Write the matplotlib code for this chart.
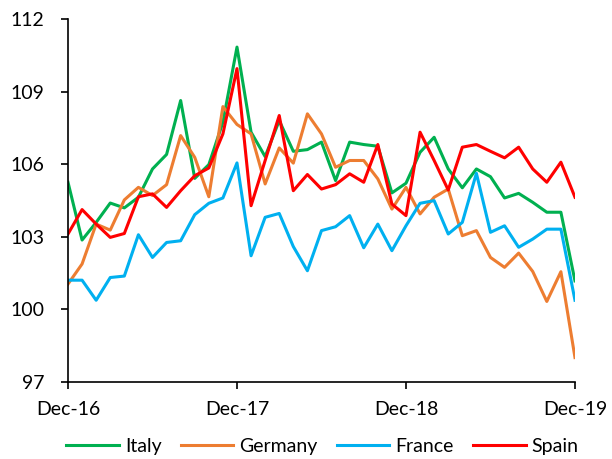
import matplotlib
matplotlib.use("Agg")
import matplotlib.pyplot as plt

# ── Data (monthly index, Dec-16 .. Dec-19) ───────────────────────────────────

tick_labels = ["Dec-16", "Dec-17", "Dec-18", "Dec-19"]

italy = [105.26, 102.87, 103.6, 104.4, 104.2, 104.64, 105.81, 106.41, 108.64,
         105.42, 105.99, 107.74, 110.85, 107.33, 106.32, 107.81, 106.54, 106.61,
         106.92, 105.33, 106.92, 106.82, 106.75, 104.82, 105.22, 106.5, 107.12,
         105.81, 105.03, 105.81, 105.49, 104.61, 104.8, 104.43, 104.02, 104.02,
         101.18]

germany = [101.05, 101.88, 103.53, 103.28, 104.53, 105.05, 104.71, 105.16, 107.19,
           106.29, 104.66, 108.39, 107.65, 107.26, 105.19, 106.68, 106.05, 108.09,
           107.26, 105.88, 106.16, 106.16, 105.4, 104.15, 105.05, 103.95, 104.64,
           104.98, 103.05, 103.26, 102.15, 101.74, 102.33, 101.57, 100.33, 101.56,
           98.01]

france = [101.21, 101.21, 100.38, 101.32, 101.38, 103.09, 102.15, 102.77, 102.84,
          103.92, 104.39, 104.61, 106.06, 102.22, 103.81, 103.97, 102.6, 101.6,
          103.26, 103.42, 103.88, 102.55, 103.53, 102.43, 103.46, 104.39, 104.5,
          103.12, 103.6, 105.63, 103.19, 103.46, 102.57, 102.91, 103.32, 103.32,
          100.38]

spain = [103.12, 104.13, 103.53, 102.98, 103.14, 104.66, 104.78, 104.22, 104.91,
         105.53, 105.85, 107.26, 109.96, 104.29, 106.16, 108.02, 104.91, 105.58,
         104.98, 105.16, 105.61, 105.26, 106.82, 104.36, 103.88, 107.33, 106.16,
         104.94, 106.71, 106.82, 106.54, 106.27, 106.71, 105.81, 105.26, 106.09,
         104.64]

series = [
    ("Italy",   italy,   "#00B050"),
    ("Germany", germany, "#ED7D31"),
    ("France",  france,  "#00B0F0"),
    ("Spain",   spain,   "#FF0000"),
]

# ── Plot ──────────────────────────────────────────────────────────────────────

plt.rcParams["font.family"] = ["Lato", "DejaVu Sans"]
plt.rcParams["font.size"] = 14

fig = plt.figure(figsize=(6.12, 4.59), dpi=100)
ax = fig.add_axes([0.1111, 0.1678, 0.8284, 0.7902])

months = range(len(italy))
for name, values, color in series:
    ax.plot(months, values, color=color, linewidth=2.2, label=name)

ax.set_xlim(0, len(italy) - 1)
ax.set_ylim(97, 112)
ax.set_xticks(range(0, len(italy), 12))
ax.set_xticklabels(tick_labels)
ax.set_yticks(range(97, 113, 3))

for side in ("top", "right"):
    ax.spines[side].set_visible(False)
for side in ("left", "bottom"):
    ax.spines[side].set_linewidth(1.2)
    ax.spines[side].set_color("black")

ax.tick_params(axis="both", direction="out", length=5, width=1.2,
               colors="black", labelsize=14)
ax.tick_params(axis="y", pad=12)
ax.tick_params(axis="x", pad=9)

fig.legend(loc="lower left", bbox_to_anchor=(0.08, -0.03), ncol=4,
           frameon=False, handlelength=2.7, handletextpad=0.3,
           columnspacing=1.0, fontsize=14)

fig.savefig("out.png", dpi=100)
